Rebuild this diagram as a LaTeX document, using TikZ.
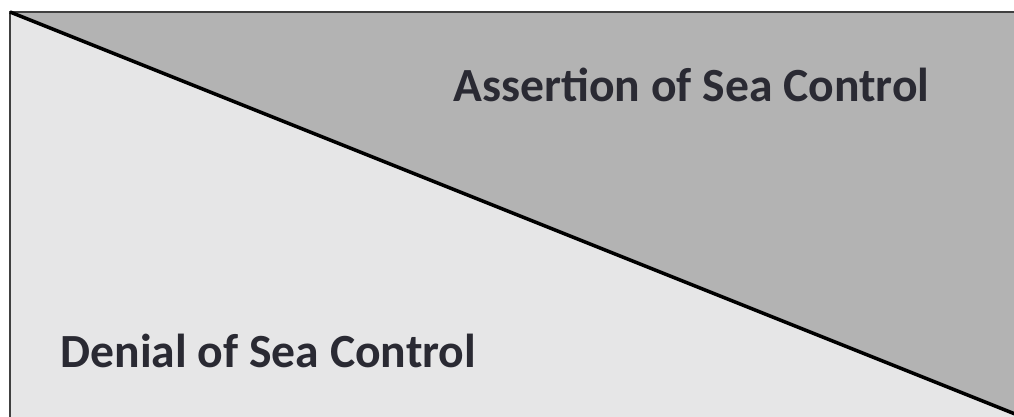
\documentclass[tikz,border=0pt]{standalone}
\usepackage{fontspec}
\setmainfont[Ligatures=Common]{Carlito}
\definecolor{assertgray}{HTML}{B3B3B3}
\definecolor{denialgray}{HTML}{E6E6E7}
\definecolor{labelink}{HTML}{2A2A33}
\tikzset{
  zonelabel/.style={anchor=base west,inner sep=0pt,text=labelink,font=\fontsize{13.55}{15}\selectfont\bfseries},
}
\begin{document}
\begin{tikzpicture}
    \clip (0,0) rectangle (10.14,-4.17);
    \coordinate (tl) at (.10,-.12);
    \coordinate (br) at (10.35,-4.22);

    \fill[denialgray] (tl) -- (br) -- (tl |- br) -- cycle;
    \fill[assertgray] (tl) -- (br) -- (br |- tl) -- cycle;
    \draw[line width=.8pt,black!75] (tl) rectangle (br);
    \draw[line width=1pt] (tl) -- (br);

    \node[zonelabel] (assert) at (4.53,-1.02) {Assertion of Sea Control};
    \node[zonelabel] (denial) at (.60,-3.68) {Denial of Sea Control};
  \end{tikzpicture}
\end{document}
